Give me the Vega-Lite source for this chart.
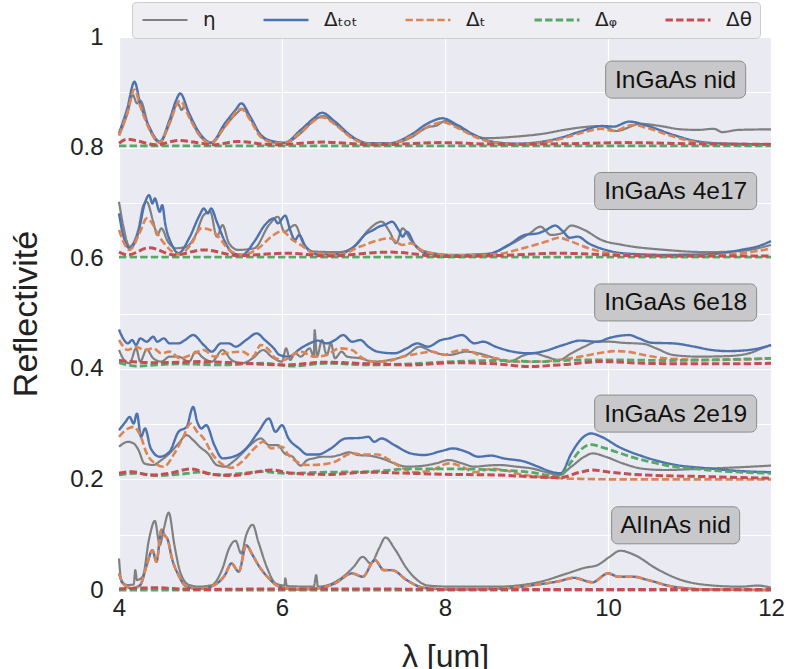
{
"$schema":"https://vega.github.io/schema/vega-lite/v6.json",
"width":652,"height":553,
"autosize":"none",
"padding":{"left":119,"top":37,"right":16,"bottom":79},
"background":"white",
"config":{
 "view":{"fill":"#eaeaf2","stroke":null},
 "axis":{"grid":true,"gridColor":"white","gridWidth":1.2,"domain":false,"ticks":false,"labelFont":"Liberation Sans","labelFontSize":24,"labelColor":"#222222","titleFont":"Liberation Sans","titleFontWeight":"normal","titleColor":"#222222","labelFlush":false,"labelOverlap":false}
},
"datasets":{
"labels":[
{"label":"InGaAs nid","x":10.83,"y":0.923},
{"label":"InGaAs 4e17","x":10.83,"y":0.7215},
{"label":"InGaAs 6e18","x":10.83,"y":0.52},
{"label":"InGaAs 2e19","x":10.83,"y":0.319},
{"label":"AlInAs nid","x":10.83,"y":0.117}],
"curves":[
{"b":"A","s":"eta","x":4.00,"y":0.822},{"b":"A","s":"eta","x":4.10,"y":0.860},{"b":"A","s":"eta","x":4.17,"y":0.895},{"b":"A","s":"eta","x":4.22,"y":0.880},{"b":"A","s":"eta","x":4.26,"y":0.885},{"b":"A","s":"eta","x":4.37,"y":0.835},{"b":"A","s":"eta","x":4.50,"y":0.809},{"b":"A","s":"eta","x":4.62,"y":0.843},{"b":"A","s":"eta","x":4.72,"y":0.880},{"b":"A","s":"eta","x":4.77,"y":0.868},{"b":"A","s":"eta","x":4.80,"y":0.875},{"b":"A","s":"eta","x":4.90,"y":0.845},{"b":"A","s":"eta","x":5.00,"y":0.820},{"b":"A","s":"eta","x":5.13,"y":0.808},{"b":"A","s":"eta","x":5.30,"y":0.838},{"b":"A","s":"eta","x":5.43,"y":0.860},{"b":"A","s":"eta","x":5.52,"y":0.870},{"b":"A","s":"eta","x":5.62,"y":0.850},{"b":"A","s":"eta","x":5.75,"y":0.820},{"b":"A","s":"eta","x":5.90,"y":0.809},{"b":"A","s":"eta","x":6.03,"y":0.808},{"b":"A","s":"eta","x":6.23,"y":0.826},{"b":"A","s":"eta","x":6.40,"y":0.850},{"b":"A","s":"eta","x":6.50,"y":0.857},{"b":"A","s":"eta","x":6.65,"y":0.843},{"b":"A","s":"eta","x":6.86,"y":0.818},{"b":"A","s":"eta","x":7.06,"y":0.807},{"b":"A","s":"eta","x":7.32,"y":0.807},{"b":"A","s":"eta","x":7.58,"y":0.818},{"b":"A","s":"eta","x":7.79,"y":0.837},{"b":"A","s":"eta","x":7.90,"y":0.840},{"b":"A","s":"eta","x":8.00,"y":0.848},{"b":"A","s":"eta","x":8.15,"y":0.838},{"b":"A","s":"eta","x":8.36,"y":0.822},{"b":"A","s":"eta","x":8.50,"y":0.817},{"b":"A","s":"eta","x":8.88,"y":0.820},{"b":"A","s":"eta","x":9.20,"y":0.825},{"b":"A","s":"eta","x":9.50,"y":0.833},{"b":"A","s":"eta","x":9.70,"y":0.837},{"b":"A","s":"eta","x":9.92,"y":0.839},{"b":"A","s":"eta","x":10.10,"y":0.830},{"b":"A","s":"eta","x":10.40,"y":0.843},{"b":"A","s":"eta","x":10.60,"y":0.840},{"b":"A","s":"eta","x":10.90,"y":0.833},{"b":"A","s":"eta","x":11.10,"y":0.832},{"b":"A","s":"eta","x":11.30,"y":0.834},{"b":"A","s":"eta","x":11.40,"y":0.828},{"b":"A","s":"eta","x":11.60,"y":0.832},{"b":"A","s":"eta","x":12.0,"y":0.833},
{"b":"A","s":"tot","x":4.00,"y":0.826},{"b":"A","s":"tot","x":4.10,"y":0.870},{"b":"A","s":"tot","x":4.19,"y":0.919},{"b":"A","s":"tot","x":4.26,"y":0.880},{"b":"A","s":"tot","x":4.37,"y":0.838},{"b":"A","s":"tot","x":4.50,"y":0.811},{"b":"A","s":"tot","x":4.62,"y":0.850},{"b":"A","s":"tot","x":4.70,"y":0.885},{"b":"A","s":"tot","x":4.75,"y":0.898},{"b":"A","s":"tot","x":4.86,"y":0.862},{"b":"A","s":"tot","x":4.99,"y":0.826},{"b":"A","s":"tot","x":5.13,"y":0.809},{"b":"A","s":"tot","x":5.30,"y":0.844},{"b":"A","s":"tot","x":5.43,"y":0.868},{"b":"A","s":"tot","x":5.50,"y":0.880},{"b":"A","s":"tot","x":5.61,"y":0.856},{"b":"A","s":"tot","x":5.74,"y":0.823},{"b":"A","s":"tot","x":5.90,"y":0.811},{"b":"A","s":"tot","x":6.03,"y":0.809},{"b":"A","s":"tot","x":6.23,"y":0.832},{"b":"A","s":"tot","x":6.39,"y":0.853},{"b":"A","s":"tot","x":6.49,"y":0.863},{"b":"A","s":"tot","x":6.65,"y":0.847},{"b":"A","s":"tot","x":6.86,"y":0.820},{"b":"A","s":"tot","x":7.06,"y":0.808},{"b":"A","s":"tot","x":7.32,"y":0.808},{"b":"A","s":"tot","x":7.58,"y":0.823},{"b":"A","s":"tot","x":7.79,"y":0.844},{"b":"A","s":"tot","x":7.97,"y":0.853},{"b":"A","s":"tot","x":8.15,"y":0.841},{"b":"A","s":"tot","x":8.36,"y":0.823},{"b":"A","s":"tot","x":8.57,"y":0.811},{"b":"A","s":"tot","x":8.88,"y":0.807},{"b":"A","s":"tot","x":9.40,"y":0.817},{"b":"A","s":"tot","x":9.66,"y":0.829},{"b":"A","s":"tot","x":9.92,"y":0.839},{"b":"A","s":"tot","x":10.07,"y":0.838},{"b":"A","s":"tot","x":10.26,"y":0.847},{"b":"A","s":"tot","x":10.49,"y":0.839},{"b":"A","s":"tot","x":10.80,"y":0.823},{"b":"A","s":"tot","x":11.11,"y":0.811},{"b":"A","s":"tot","x":11.47,"y":0.807},{"b":"A","s":"tot","x":12.0,"y":0.806},
{"b":"A","s":"t","x":4.00,"y":0.822},{"b":"A","s":"t","x":4.10,"y":0.862},{"b":"A","s":"t","x":4.19,"y":0.905},{"b":"A","s":"t","x":4.26,"y":0.875},{"b":"A","s":"t","x":4.37,"y":0.834},{"b":"A","s":"t","x":4.50,"y":0.809},{"b":"A","s":"t","x":4.62,"y":0.845},{"b":"A","s":"t","x":4.75,"y":0.885},{"b":"A","s":"t","x":4.86,"y":0.855},{"b":"A","s":"t","x":4.99,"y":0.822},{"b":"A","s":"t","x":5.13,"y":0.808},{"b":"A","s":"t","x":5.30,"y":0.838},{"b":"A","s":"t","x":5.50,"y":0.870},{"b":"A","s":"t","x":5.61,"y":0.850},{"b":"A","s":"t","x":5.74,"y":0.819},{"b":"A","s":"t","x":5.90,"y":0.809},{"b":"A","s":"t","x":6.03,"y":0.808},{"b":"A","s":"t","x":6.23,"y":0.828},{"b":"A","s":"t","x":6.49,"y":0.855},{"b":"A","s":"t","x":6.65,"y":0.842},{"b":"A","s":"t","x":6.86,"y":0.817},{"b":"A","s":"t","x":7.06,"y":0.807},{"b":"A","s":"t","x":7.32,"y":0.807},{"b":"A","s":"t","x":7.58,"y":0.820},{"b":"A","s":"t","x":7.79,"y":0.838},{"b":"A","s":"t","x":7.97,"y":0.846},{"b":"A","s":"t","x":8.15,"y":0.836},{"b":"A","s":"t","x":8.36,"y":0.820},{"b":"A","s":"t","x":8.57,"y":0.810},{"b":"A","s":"t","x":8.88,"y":0.806},{"b":"A","s":"t","x":9.40,"y":0.815},{"b":"A","s":"t","x":9.66,"y":0.826},{"b":"A","s":"t","x":9.92,"y":0.834},{"b":"A","s":"t","x":10.07,"y":0.830},{"b":"A","s":"t","x":10.30,"y":0.841},{"b":"A","s":"t","x":10.49,"y":0.835},{"b":"A","s":"t","x":10.80,"y":0.820},{"b":"A","s":"t","x":11.11,"y":0.809},{"b":"A","s":"t","x":11.47,"y":0.806},{"b":"A","s":"t","x":12.0,"y":0.805},
{"b":"A","s":"phi","x":4.0,"y":0.803},{"b":"A","s":"phi","x":6.0,"y":0.803},{"b":"A","s":"phi","x":8.0,"y":0.803},{"b":"A","s":"phi","x":10.0,"y":0.803},{"b":"A","s":"phi","x":12.0,"y":0.803},
{"b":"A","s":"theta","x":4.00,"y":0.808},{"b":"A","s":"theta","x":4.10,"y":0.815},{"b":"A","s":"theta","x":4.20,"y":0.813},{"b":"A","s":"theta","x":4.45,"y":0.805},{"b":"A","s":"theta","x":4.73,"y":0.813},{"b":"A","s":"theta","x":5.00,"y":0.808},{"b":"A","s":"theta","x":5.15,"y":0.805},{"b":"A","s":"theta","x":5.45,"y":0.811},{"b":"A","s":"theta","x":5.90,"y":0.805},{"b":"A","s":"theta","x":6.50,"y":0.810},{"b":"A","s":"theta","x":7.15,"y":0.805},{"b":"A","s":"theta","x":7.95,"y":0.809},{"b":"A","s":"theta","x":8.70,"y":0.806},{"b":"A","s":"theta","x":9.50,"y":0.807},{"b":"A","s":"theta","x":10.20,"y":0.809},{"b":"A","s":"theta","x":11.00,"y":0.807},{"b":"A","s":"theta","x":12.0,"y":0.806},
{"b":"B","s":"eta","x":4.00,"y":0.702},{"b":"B","s":"eta","x":4.05,"y":0.660},{"b":"B","s":"eta","x":4.13,"y":0.621},{"b":"B","s":"eta","x":4.24,"y":0.654},{"b":"B","s":"eta","x":4.30,"y":0.696},{"b":"B","s":"eta","x":4.34,"y":0.702},{"b":"B","s":"eta","x":4.42,"y":0.666},{"b":"B","s":"eta","x":4.47,"y":0.642},{"b":"B","s":"eta","x":4.52,"y":0.654},{"b":"B","s":"eta","x":4.60,"y":0.630},{"b":"B","s":"eta","x":4.70,"y":0.618},{"b":"B","s":"eta","x":4.83,"y":0.621},{"b":"B","s":"eta","x":4.94,"y":0.642},{"b":"B","s":"eta","x":5.04,"y":0.678},{"b":"B","s":"eta","x":5.12,"y":0.684},{"b":"B","s":"eta","x":5.20,"y":0.639},{"b":"B","s":"eta","x":5.27,"y":0.660},{"b":"B","s":"eta","x":5.35,"y":0.627},{"b":"B","s":"eta","x":5.46,"y":0.615},{"b":"B","s":"eta","x":5.66,"y":0.618},{"b":"B","s":"eta","x":5.84,"y":0.660},{"b":"B","s":"eta","x":5.95,"y":0.675},{"b":"B","s":"eta","x":6.03,"y":0.648},{"b":"B","s":"eta","x":6.16,"y":0.660},{"b":"B","s":"eta","x":6.26,"y":0.627},{"b":"B","s":"eta","x":6.39,"y":0.612},{"b":"B","s":"eta","x":6.70,"y":0.611},{"b":"B","s":"eta","x":6.91,"y":0.624},{"b":"B","s":"eta","x":7.06,"y":0.651},{"b":"B","s":"eta","x":7.22,"y":0.666},{"b":"B","s":"eta","x":7.32,"y":0.648},{"b":"B","s":"eta","x":7.40,"y":0.627},{"b":"B","s":"eta","x":7.48,"y":0.654},{"b":"B","s":"eta","x":7.58,"y":0.633},{"b":"B","s":"eta","x":7.74,"y":0.613},{"b":"B","s":"eta","x":8.10,"y":0.606},{"b":"B","s":"eta","x":8.52,"y":0.608},{"b":"B","s":"eta","x":8.83,"y":0.627},{"b":"B","s":"eta","x":9.04,"y":0.645},{"b":"B","s":"eta","x":9.17,"y":0.657},{"b":"B","s":"eta","x":9.30,"y":0.642},{"b":"B","s":"eta","x":9.43,"y":0.645},{"b":"B","s":"eta","x":9.55,"y":0.659},{"b":"B","s":"eta","x":9.71,"y":0.651},{"b":"B","s":"eta","x":9.92,"y":0.633},{"b":"B","s":"eta","x":10.18,"y":0.624},{"b":"B","s":"eta","x":10.70,"y":0.615},{"b":"B","s":"eta","x":11.22,"y":0.611},{"b":"B","s":"eta","x":11.63,"y":0.613},{"b":"B","s":"eta","x":12.0,"y":0.624},
{"b":"B","s":"tot","x":4.00,"y":0.681},{"b":"B","s":"tot","x":4.05,"y":0.642},{"b":"B","s":"tot","x":4.13,"y":0.618},{"b":"B","s":"tot","x":4.24,"y":0.648},{"b":"B","s":"tot","x":4.31,"y":0.696},{"b":"B","s":"tot","x":4.37,"y":0.714},{"b":"B","s":"tot","x":4.41,"y":0.699},{"b":"B","s":"tot","x":4.44,"y":0.708},{"b":"B","s":"tot","x":4.50,"y":0.684},{"b":"B","s":"tot","x":4.53,"y":0.696},{"b":"B","s":"tot","x":4.57,"y":0.660},{"b":"B","s":"tot","x":4.65,"y":0.624},{"b":"B","s":"tot","x":4.73,"y":0.609},{"b":"B","s":"tot","x":4.86,"y":0.636},{"b":"B","s":"tot","x":4.99,"y":0.678},{"b":"B","s":"tot","x":5.04,"y":0.690},{"b":"B","s":"tot","x":5.09,"y":0.681},{"b":"B","s":"tot","x":5.13,"y":0.690},{"b":"B","s":"tot","x":5.20,"y":0.666},{"b":"B","s":"tot","x":5.30,"y":0.630},{"b":"B","s":"tot","x":5.40,"y":0.609},{"b":"B","s":"tot","x":5.51,"y":0.606},{"b":"B","s":"tot","x":5.66,"y":0.630},{"b":"B","s":"tot","x":5.79,"y":0.660},{"b":"B","s":"tot","x":5.90,"y":0.672},{"b":"B","s":"tot","x":5.95,"y":0.663},{"b":"B","s":"tot","x":6.04,"y":0.677},{"b":"B","s":"tot","x":6.10,"y":0.651},{"b":"B","s":"tot","x":6.16,"y":0.633},{"b":"B","s":"tot","x":6.21,"y":0.642},{"b":"B","s":"tot","x":6.29,"y":0.621},{"b":"B","s":"tot","x":6.44,"y":0.607},{"b":"B","s":"tot","x":6.65,"y":0.607},{"b":"B","s":"tot","x":6.86,"y":0.618},{"b":"B","s":"tot","x":7.04,"y":0.645},{"b":"B","s":"tot","x":7.12,"y":0.651},{"b":"B","s":"tot","x":7.19,"y":0.657},{"b":"B","s":"tot","x":7.27,"y":0.661},{"b":"B","s":"tot","x":7.35,"y":0.666},{"b":"B","s":"tot","x":7.43,"y":0.651},{"b":"B","s":"tot","x":7.48,"y":0.639},{"b":"B","s":"tot","x":7.53,"y":0.648},{"b":"B","s":"tot","x":7.63,"y":0.624},{"b":"B","s":"tot","x":7.79,"y":0.608},{"b":"B","s":"tot","x":8.10,"y":0.605},{"b":"B","s":"tot","x":8.52,"y":0.607},{"b":"B","s":"tot","x":8.78,"y":0.624},{"b":"B","s":"tot","x":8.98,"y":0.642},{"b":"B","s":"tot","x":9.14,"y":0.645},{"b":"B","s":"tot","x":9.24,"y":0.651},{"b":"B","s":"tot","x":9.35,"y":0.659},{"b":"B","s":"tot","x":9.45,"y":0.648},{"b":"B","s":"tot","x":9.53,"y":0.637},{"b":"B","s":"tot","x":9.63,"y":0.639},{"b":"B","s":"tot","x":9.76,"y":0.627},{"b":"B","s":"tot","x":9.97,"y":0.615},{"b":"B","s":"tot","x":10.18,"y":0.609},{"b":"B","s":"tot","x":10.70,"y":0.606},{"b":"B","s":"tot","x":11.22,"y":0.607},{"b":"B","s":"tot","x":11.63,"y":0.615},{"b":"B","s":"tot","x":11.89,"y":0.624},{"b":"B","s":"tot","x":12.0,"y":0.631},
{"b":"B","s":"t","x":4.00,"y":0.651},{"b":"B","s":"t","x":4.13,"y":0.615},{"b":"B","s":"t","x":4.26,"y":0.648},{"b":"B","s":"t","x":4.34,"y":0.672},{"b":"B","s":"t","x":4.42,"y":0.660},{"b":"B","s":"t","x":4.47,"y":0.645},{"b":"B","s":"t","x":4.57,"y":0.624},{"b":"B","s":"t","x":4.73,"y":0.607},{"b":"B","s":"t","x":4.88,"y":0.624},{"b":"B","s":"t","x":5.01,"y":0.654},{"b":"B","s":"t","x":5.12,"y":0.651},{"b":"B","s":"t","x":5.22,"y":0.639},{"b":"B","s":"t","x":5.35,"y":0.615},{"b":"B","s":"t","x":5.51,"y":0.606},{"b":"B","s":"t","x":5.71,"y":0.618},{"b":"B","s":"t","x":5.87,"y":0.639},{"b":"B","s":"t","x":6.00,"y":0.649},{"b":"B","s":"t","x":6.13,"y":0.633},{"b":"B","s":"t","x":6.23,"y":0.624},{"b":"B","s":"t","x":6.39,"y":0.609},{"b":"B","s":"t","x":6.70,"y":0.607},{"b":"B","s":"t","x":6.96,"y":0.621},{"b":"B","s":"t","x":7.17,"y":0.632},{"b":"B","s":"t","x":7.32,"y":0.636},{"b":"B","s":"t","x":7.48,"y":0.624},{"b":"B","s":"t","x":7.58,"y":0.627},{"b":"B","s":"t","x":7.74,"y":0.612},{"b":"B","s":"t","x":8.10,"y":0.605},{"b":"B","s":"t","x":8.62,"y":0.607},{"b":"B","s":"t","x":8.93,"y":0.617},{"b":"B","s":"t","x":9.24,"y":0.630},{"b":"B","s":"t","x":9.40,"y":0.637},{"b":"B","s":"t","x":9.55,"y":0.630},{"b":"B","s":"t","x":9.76,"y":0.618},{"b":"B","s":"t","x":10.02,"y":0.609},{"b":"B","s":"t","x":10.44,"y":0.605},{"b":"B","s":"t","x":10.96,"y":0.604},{"b":"B","s":"t","x":11.47,"y":0.607},{"b":"B","s":"t","x":11.84,"y":0.613},{"b":"B","s":"t","x":12.0,"y":0.618},
{"b":"B","s":"phi","x":4.0,"y":0.602},{"b":"B","s":"phi","x":8.0,"y":0.602},{"b":"B","s":"phi","x":12.0,"y":0.602},
{"b":"B","s":"theta","x":4.00,"y":0.611},{"b":"B","s":"theta","x":4.11,"y":0.606},{"b":"B","s":"theta","x":4.37,"y":0.619},{"b":"B","s":"theta","x":4.68,"y":0.606},{"b":"B","s":"theta","x":5.04,"y":0.615},{"b":"B","s":"theta","x":5.46,"y":0.605},{"b":"B","s":"theta","x":6.08,"y":0.609},{"b":"B","s":"theta","x":6.55,"y":0.604},{"b":"B","s":"theta","x":7.32,"y":0.611},{"b":"B","s":"theta","x":8.0,"y":0.603},{"b":"B","s":"theta","x":8.7,"y":0.605},{"b":"B","s":"theta","x":9.4,"y":0.609},{"b":"B","s":"theta","x":10.18,"y":0.605},{"b":"B","s":"theta","x":11.0,"y":0.604},{"b":"B","s":"theta","x":12.0,"y":0.604},
{"b":"C","s":"eta","x":4.00,"y":0.434},{"b":"C","s":"eta","x":4.08,"y":0.413},{"b":"C","s":"eta","x":4.13,"y":0.410},{"b":"C","s":"eta","x":4.21,"y":0.437},{"b":"C","s":"eta","x":4.26,"y":0.413},{"b":"C","s":"eta","x":4.34,"y":0.435},{"b":"C","s":"eta","x":4.42,"y":0.419},{"b":"C","s":"eta","x":4.52,"y":0.413},{"b":"C","s":"eta","x":4.62,"y":0.422},{"b":"C","s":"eta","x":4.73,"y":0.422},{"b":"C","s":"eta","x":4.86,"y":0.413},{"b":"C","s":"eta","x":4.94,"y":0.431},{"b":"C","s":"eta","x":5.04,"y":0.419},{"b":"C","s":"eta","x":5.14,"y":0.413},{"b":"C","s":"eta","x":5.27,"y":0.434},{"b":"C","s":"eta","x":5.38,"y":0.416},{"b":"C","s":"eta","x":5.51,"y":0.410},{"b":"C","s":"eta","x":5.64,"y":0.419},{"b":"C","s":"eta","x":5.77,"y":0.434},{"b":"C","s":"eta","x":5.87,"y":0.422},{"b":"C","s":"eta","x":6.00,"y":0.413},{"b":"C","s":"eta","x":6.05,"y":0.437},{"b":"C","s":"eta","x":6.10,"y":0.416},{"b":"C","s":"eta","x":6.16,"y":0.428},{"b":"C","s":"eta","x":6.23,"y":0.422},{"b":"C","s":"eta","x":6.34,"y":0.437},{"b":"C","s":"eta","x":6.39,"y":0.422},{"b":"C","s":"eta","x":6.40,"y":0.470},{"b":"C","s":"eta","x":6.43,"y":0.422},{"b":"C","s":"eta","x":6.49,"y":0.452},{"b":"C","s":"eta","x":6.55,"y":0.425},{"b":"C","s":"eta","x":6.60,"y":0.446},{"b":"C","s":"eta","x":6.65,"y":0.419},{"b":"C","s":"eta","x":6.73,"y":0.431},{"b":"C","s":"eta","x":6.80,"y":0.422},{"b":"C","s":"eta","x":6.96,"y":0.419},{"b":"C","s":"eta","x":7.12,"y":0.413},{"b":"C","s":"eta","x":7.32,"y":0.416},{"b":"C","s":"eta","x":7.53,"y":0.425},{"b":"C","s":"eta","x":7.69,"y":0.440},{"b":"C","s":"eta","x":7.84,"y":0.431},{"b":"C","s":"eta","x":8.05,"y":0.425},{"b":"C","s":"eta","x":8.26,"y":0.431},{"b":"C","s":"eta","x":8.41,"y":0.428},{"b":"C","s":"eta","x":8.62,"y":0.419},{"b":"C","s":"eta","x":8.78,"y":0.413},{"b":"C","s":"eta","x":8.98,"y":0.425},{"b":"C","s":"eta","x":9.09,"y":0.428},{"b":"C","s":"eta","x":9.24,"y":0.422},{"b":"C","s":"eta","x":9.40,"y":0.416},{"b":"C","s":"eta","x":9.55,"y":0.428},{"b":"C","s":"eta","x":9.71,"y":0.440},{"b":"C","s":"eta","x":9.87,"y":0.449},{"b":"C","s":"eta","x":10.02,"y":0.449},{"b":"C","s":"eta","x":10.18,"y":0.447},{"b":"C","s":"eta","x":10.44,"y":0.445},{"b":"C","s":"eta","x":10.59,"y":0.437},{"b":"C","s":"eta","x":10.80,"y":0.425},{"b":"C","s":"eta","x":11.11,"y":0.422},{"b":"C","s":"eta","x":11.47,"y":0.423},{"b":"C","s":"eta","x":11.73,"y":0.428},{"b":"C","s":"eta","x":11.89,"y":0.437},{"b":"C","s":"eta","x":12.0,"y":0.443},
{"b":"C","s":"tot","x":4.00,"y":0.471},{"b":"C","s":"tot","x":4.05,"y":0.455},{"b":"C","s":"tot","x":4.11,"y":0.446},{"b":"C","s":"tot","x":4.16,"y":0.452},{"b":"C","s":"tot","x":4.21,"y":0.443},{"b":"C","s":"tot","x":4.26,"y":0.455},{"b":"C","s":"tot","x":4.34,"y":0.449},{"b":"C","s":"tot","x":4.42,"y":0.458},{"b":"C","s":"tot","x":4.47,"y":0.449},{"b":"C","s":"tot","x":4.55,"y":0.455},{"b":"C","s":"tot","x":4.62,"y":0.446},{"b":"C","s":"tot","x":4.73,"y":0.446},{"b":"C","s":"tot","x":4.81,"y":0.452},{"b":"C","s":"tot","x":4.91,"y":0.461},{"b":"C","s":"tot","x":5.04,"y":0.443},{"b":"C","s":"tot","x":5.14,"y":0.431},{"b":"C","s":"tot","x":5.25,"y":0.446},{"b":"C","s":"tot","x":5.35,"y":0.446},{"b":"C","s":"tot","x":5.43,"y":0.440},{"b":"C","s":"tot","x":5.56,"y":0.452},{"b":"C","s":"tot","x":5.69,"y":0.464},{"b":"C","s":"tot","x":5.79,"y":0.452},{"b":"C","s":"tot","x":5.90,"y":0.437},{"b":"C","s":"tot","x":5.97,"y":0.425},{"b":"C","s":"tot","x":6.08,"y":0.422},{"b":"C","s":"tot","x":6.23,"y":0.437},{"b":"C","s":"tot","x":6.34,"y":0.446},{"b":"C","s":"tot","x":6.44,"y":0.451},{"b":"C","s":"tot","x":6.55,"y":0.446},{"b":"C","s":"tot","x":6.65,"y":0.452},{"b":"C","s":"tot","x":6.75,"y":0.461},{"b":"C","s":"tot","x":6.86,"y":0.449},{"b":"C","s":"tot","x":6.96,"y":0.452},{"b":"C","s":"tot","x":7.06,"y":0.440},{"b":"C","s":"tot","x":7.17,"y":0.431},{"b":"C","s":"tot","x":7.38,"y":0.428},{"b":"C","s":"tot","x":7.53,"y":0.437},{"b":"C","s":"tot","x":7.66,"y":0.446},{"b":"C","s":"tot","x":7.79,"y":0.440},{"b":"C","s":"tot","x":7.95,"y":0.452},{"b":"C","s":"tot","x":8.05,"y":0.455},{"b":"C","s":"tot","x":8.21,"y":0.461},{"b":"C","s":"tot","x":8.36,"y":0.446},{"b":"C","s":"tot","x":8.47,"y":0.449},{"b":"C","s":"tot","x":8.62,"y":0.440},{"b":"C","s":"tot","x":8.83,"y":0.431},{"b":"C","s":"tot","x":9.04,"y":0.428},{"b":"C","s":"tot","x":9.19,"y":0.431},{"b":"C","s":"tot","x":9.45,"y":0.443},{"b":"C","s":"tot","x":9.66,"y":0.451},{"b":"C","s":"tot","x":9.87,"y":0.449},{"b":"C","s":"tot","x":10.02,"y":0.456},{"b":"C","s":"tot","x":10.26,"y":0.461},{"b":"C","s":"tot","x":10.38,"y":0.455},{"b":"C","s":"tot","x":10.54,"y":0.447},{"b":"C","s":"tot","x":10.80,"y":0.446},{"b":"C","s":"tot","x":11.06,"y":0.440},{"b":"C","s":"tot","x":11.27,"y":0.434},{"b":"C","s":"tot","x":11.47,"y":0.432},{"b":"C","s":"tot","x":11.73,"y":0.434},{"b":"C","s":"tot","x":12.0,"y":0.443},
{"b":"C","s":"t","x":4.00,"y":0.452},{"b":"C","s":"t","x":4.11,"y":0.434},{"b":"C","s":"t","x":4.21,"y":0.440},{"b":"C","s":"t","x":4.31,"y":0.434},{"b":"C","s":"t","x":4.42,"y":0.437},{"b":"C","s":"t","x":4.52,"y":0.428},{"b":"C","s":"t","x":4.62,"y":0.431},{"b":"C","s":"t","x":4.75,"y":0.419},{"b":"C","s":"t","x":4.88,"y":0.425},{"b":"C","s":"t","x":5.04,"y":0.434},{"b":"C","s":"t","x":5.17,"y":0.422},{"b":"C","s":"t","x":5.30,"y":0.428},{"b":"C","s":"t","x":5.51,"y":0.431},{"b":"C","s":"t","x":5.64,"y":0.422},{"b":"C","s":"t","x":5.74,"y":0.443},{"b":"C","s":"t","x":5.84,"y":0.434},{"b":"C","s":"t","x":5.92,"y":0.419},{"b":"C","s":"t","x":6.03,"y":0.416},{"b":"C","s":"t","x":6.13,"y":0.425},{"b":"C","s":"t","x":6.23,"y":0.431},{"b":"C","s":"t","x":6.39,"y":0.422},{"b":"C","s":"t","x":6.55,"y":0.425},{"b":"C","s":"t","x":6.70,"y":0.437},{"b":"C","s":"t","x":6.86,"y":0.434},{"b":"C","s":"t","x":6.96,"y":0.422},{"b":"C","s":"t","x":7.12,"y":0.413},{"b":"C","s":"t","x":7.27,"y":0.413},{"b":"C","s":"t","x":7.48,"y":0.422},{"b":"C","s":"t","x":7.69,"y":0.428},{"b":"C","s":"t","x":7.84,"y":0.431},{"b":"C","s":"t","x":8.00,"y":0.425},{"b":"C","s":"t","x":8.10,"y":0.431},{"b":"C","s":"t","x":8.26,"y":0.434},{"b":"C","s":"t","x":8.41,"y":0.425},{"b":"C","s":"t","x":8.62,"y":0.419},{"b":"C","s":"t","x":8.88,"y":0.413},{"b":"C","s":"t","x":9.14,"y":0.413},{"b":"C","s":"t","x":9.40,"y":0.416},{"b":"C","s":"t","x":9.66,"y":0.422},{"b":"C","s":"t","x":9.92,"y":0.429},{"b":"C","s":"t","x":10.07,"y":0.432},{"b":"C","s":"t","x":10.23,"y":0.431},{"b":"C","s":"t","x":10.44,"y":0.425},{"b":"C","s":"t","x":10.70,"y":0.419},{"b":"C","s":"t","x":11.22,"y":0.416},{"b":"C","s":"t","x":11.73,"y":0.417},{"b":"C","s":"t","x":12.0,"y":0.419},
{"b":"C","s":"phi","x":4.00,"y":0.411},{"b":"C","s":"phi","x":4.21,"y":0.405},{"b":"C","s":"phi","x":4.73,"y":0.409},{"b":"C","s":"phi","x":5.25,"y":0.407},{"b":"C","s":"phi","x":5.77,"y":0.410},{"b":"C","s":"phi","x":6.13,"y":0.405},{"b":"C","s":"phi","x":6.55,"y":0.410},{"b":"C","s":"phi","x":7.06,"y":0.407},{"b":"C","s":"phi","x":7.58,"y":0.409},{"b":"C","s":"phi","x":8.10,"y":0.413},{"b":"C","s":"phi","x":8.62,"y":0.415},{"b":"C","s":"phi","x":9.14,"y":0.413},{"b":"C","s":"phi","x":9.66,"y":0.416},{"b":"C","s":"phi","x":10.18,"y":0.416},{"b":"C","s":"phi","x":10.70,"y":0.415},{"b":"C","s":"phi","x":11.22,"y":0.416},{"b":"C","s":"phi","x":12.0,"y":0.419},
{"b":"C","s":"theta","x":4.00,"y":0.415},{"b":"C","s":"theta","x":4.47,"y":0.411},{"b":"C","s":"theta","x":4.99,"y":0.413},{"b":"C","s":"theta","x":5.51,"y":0.410},{"b":"C","s":"theta","x":6.03,"y":0.407},{"b":"C","s":"theta","x":6.55,"y":0.412},{"b":"C","s":"theta","x":7.06,"y":0.409},{"b":"C","s":"theta","x":7.58,"y":0.407},{"b":"C","s":"theta","x":8.10,"y":0.411},{"b":"C","s":"theta","x":8.62,"y":0.409},{"b":"C","s":"theta","x":9.04,"y":0.404},{"b":"C","s":"theta","x":9.40,"y":0.407},{"b":"C","s":"theta","x":9.92,"y":0.413},{"b":"C","s":"theta","x":10.44,"y":0.410},{"b":"C","s":"theta","x":10.96,"y":0.409},{"b":"C","s":"theta","x":11.47,"y":0.409},{"b":"C","s":"theta","x":12.0,"y":0.410},
{"b":"D","s":"eta","x":4.00,"y":0.259},{"b":"D","s":"eta","x":4.11,"y":0.268},{"b":"D","s":"eta","x":4.18,"y":0.265},{"b":"D","s":"eta","x":4.24,"y":0.253},{"b":"D","s":"eta","x":4.31,"y":0.229},{"b":"D","s":"eta","x":4.42,"y":0.226},{"b":"D","s":"eta","x":4.52,"y":0.235},{"b":"D","s":"eta","x":4.62,"y":0.247},{"b":"D","s":"eta","x":4.73,"y":0.265},{"b":"D","s":"eta","x":4.83,"y":0.280},{"b":"D","s":"eta","x":4.91,"y":0.271},{"b":"D","s":"eta","x":4.99,"y":0.259},{"b":"D","s":"eta","x":5.09,"y":0.247},{"b":"D","s":"eta","x":5.20,"y":0.226},{"b":"D","s":"eta","x":5.30,"y":0.223},{"b":"D","s":"eta","x":5.40,"y":0.232},{"b":"D","s":"eta","x":5.51,"y":0.247},{"b":"D","s":"eta","x":5.61,"y":0.262},{"b":"D","s":"eta","x":5.74,"y":0.274},{"b":"D","s":"eta","x":5.84,"y":0.262},{"b":"D","s":"eta","x":5.95,"y":0.262},{"b":"D","s":"eta","x":6.03,"y":0.247},{"b":"D","s":"eta","x":6.13,"y":0.241},{"b":"D","s":"eta","x":6.23,"y":0.225},{"b":"D","s":"eta","x":6.31,"y":0.235},{"b":"D","s":"eta","x":6.39,"y":0.238},{"b":"D","s":"eta","x":6.49,"y":0.241},{"b":"D","s":"eta","x":6.60,"y":0.241},{"b":"D","s":"eta","x":6.70,"y":0.244},{"b":"D","s":"eta","x":6.83,"y":0.249},{"b":"D","s":"eta","x":6.93,"y":0.244},{"b":"D","s":"eta","x":7.06,"y":0.243},{"b":"D","s":"eta","x":7.22,"y":0.238},{"b":"D","s":"eta","x":7.38,"y":0.229},{"b":"D","s":"eta","x":7.53,"y":0.223},{"b":"D","s":"eta","x":7.69,"y":0.224},{"b":"D","s":"eta","x":7.89,"y":0.229},{"b":"D","s":"eta","x":8.05,"y":0.235},{"b":"D","s":"eta","x":8.21,"y":0.229},{"b":"D","s":"eta","x":8.36,"y":0.223},{"b":"D","s":"eta","x":8.52,"y":0.225},{"b":"D","s":"eta","x":8.67,"y":0.226},{"b":"D","s":"eta","x":8.88,"y":0.223},{"b":"D","s":"eta","x":9.09,"y":0.219},{"b":"D","s":"eta","x":9.24,"y":0.213},{"b":"D","s":"eta","x":9.40,"y":0.208},{"b":"D","s":"eta","x":9.55,"y":0.223},{"b":"D","s":"eta","x":9.71,"y":0.241},{"b":"D","s":"eta","x":9.81,"y":0.247},{"b":"D","s":"eta","x":9.97,"y":0.241},{"b":"D","s":"eta","x":10.18,"y":0.229},{"b":"D","s":"eta","x":10.44,"y":0.219},{"b":"D","s":"eta","x":10.70,"y":0.217},{"b":"D","s":"eta","x":11.11,"y":0.219},{"b":"D","s":"eta","x":11.47,"y":0.221},{"b":"D","s":"eta","x":12.0,"y":0.225},
{"b":"D","s":"tot","x":4.00,"y":0.289},{"b":"D","s":"tot","x":4.08,"y":0.304},{"b":"D","s":"tot","x":4.13,"y":0.313},{"b":"D","s":"tot","x":4.18,"y":0.301},{"b":"D","s":"tot","x":4.22,"y":0.319},{"b":"D","s":"tot","x":4.27,"y":0.277},{"b":"D","s":"tot","x":4.32,"y":0.292},{"b":"D","s":"tot","x":4.39,"y":0.256},{"b":"D","s":"tot","x":4.50,"y":0.241},{"b":"D","s":"tot","x":4.62,"y":0.250},{"b":"D","s":"tot","x":4.73,"y":0.286},{"b":"D","s":"tot","x":4.83,"y":0.295},{"b":"D","s":"tot","x":4.91,"y":0.331},{"b":"D","s":"tot","x":4.96,"y":0.304},{"b":"D","s":"tot","x":5.01,"y":0.292},{"b":"D","s":"tot","x":5.07,"y":0.298},{"b":"D","s":"tot","x":5.17,"y":0.262},{"b":"D","s":"tot","x":5.27,"y":0.238},{"b":"D","s":"tot","x":5.40,"y":0.241},{"b":"D","s":"tot","x":5.56,"y":0.256},{"b":"D","s":"tot","x":5.71,"y":0.286},{"b":"D","s":"tot","x":5.84,"y":0.310},{"b":"D","s":"tot","x":5.92,"y":0.286},{"b":"D","s":"tot","x":6.00,"y":0.298},{"b":"D","s":"tot","x":6.08,"y":0.274},{"b":"D","s":"tot","x":6.21,"y":0.256},{"b":"D","s":"tot","x":6.31,"y":0.245},{"b":"D","s":"tot","x":6.44,"y":0.245},{"b":"D","s":"tot","x":6.60,"y":0.256},{"b":"D","s":"tot","x":6.78,"y":0.274},{"b":"D","s":"tot","x":6.96,"y":0.275},{"b":"D","s":"tot","x":7.06,"y":0.277},{"b":"D","s":"tot","x":7.13,"y":0.268},{"b":"D","s":"tot","x":7.22,"y":0.274},{"b":"D","s":"tot","x":7.38,"y":0.262},{"b":"D","s":"tot","x":7.58,"y":0.247},{"b":"D","s":"tot","x":7.74,"y":0.244},{"b":"D","s":"tot","x":7.95,"y":0.251},{"b":"D","s":"tot","x":8.10,"y":0.256},{"b":"D","s":"tot","x":8.26,"y":0.250},{"b":"D","s":"tot","x":8.41,"y":0.241},{"b":"D","s":"tot","x":8.57,"y":0.243},{"b":"D","s":"tot","x":8.72,"y":0.238},{"b":"D","s":"tot","x":8.98,"y":0.232},{"b":"D","s":"tot","x":9.14,"y":0.223},{"b":"D","s":"tot","x":9.30,"y":0.214},{"b":"D","s":"tot","x":9.42,"y":0.211},{"b":"D","s":"tot","x":9.55,"y":0.247},{"b":"D","s":"tot","x":9.66,"y":0.271},{"b":"D","s":"tot","x":9.79,"y":0.283},{"b":"D","s":"tot","x":9.92,"y":0.277},{"b":"D","s":"tot","x":10.13,"y":0.259},{"b":"D","s":"tot","x":10.44,"y":0.241},{"b":"D","s":"tot","x":10.80,"y":0.227},{"b":"D","s":"tot","x":11.22,"y":0.220},{"b":"D","s":"tot","x":11.63,"y":0.215},{"b":"D","s":"tot","x":12.0,"y":0.213},
{"b":"D","s":"t","x":4.00,"y":0.277},{"b":"D","s":"t","x":4.11,"y":0.292},{"b":"D","s":"t","x":4.18,"y":0.295},{"b":"D","s":"t","x":4.26,"y":0.280},{"b":"D","s":"t","x":4.34,"y":0.247},{"b":"D","s":"t","x":4.44,"y":0.229},{"b":"D","s":"t","x":4.55,"y":0.223},{"b":"D","s":"t","x":4.68,"y":0.247},{"b":"D","s":"t","x":4.78,"y":0.274},{"b":"D","s":"t","x":4.88,"y":0.301},{"b":"D","s":"t","x":4.96,"y":0.286},{"b":"D","s":"t","x":5.04,"y":0.274},{"b":"D","s":"t","x":5.14,"y":0.247},{"b":"D","s":"t","x":5.25,"y":0.229},{"b":"D","s":"t","x":5.38,"y":0.221},{"b":"D","s":"t","x":5.51,"y":0.232},{"b":"D","s":"t","x":5.66,"y":0.256},{"b":"D","s":"t","x":5.77,"y":0.268},{"b":"D","s":"t","x":5.87,"y":0.256},{"b":"D","s":"t","x":6.00,"y":0.259},{"b":"D","s":"t","x":6.08,"y":0.244},{"b":"D","s":"t","x":6.18,"y":0.232},{"b":"D","s":"t","x":6.31,"y":0.226},{"b":"D","s":"t","x":6.49,"y":0.227},{"b":"D","s":"t","x":6.65,"y":0.232},{"b":"D","s":"t","x":6.86,"y":0.247},{"b":"D","s":"t","x":7.01,"y":0.245},{"b":"D","s":"t","x":7.17,"y":0.245},{"b":"D","s":"t","x":7.32,"y":0.235},{"b":"D","s":"t","x":7.48,"y":0.220},{"b":"D","s":"t","x":7.63,"y":0.213},{"b":"D","s":"t","x":7.84,"y":0.217},{"b":"D","s":"t","x":8.05,"y":0.229},{"b":"D","s":"t","x":8.21,"y":0.223},{"b":"D","s":"t","x":8.36,"y":0.213},{"b":"D","s":"t","x":8.57,"y":0.219},{"b":"D","s":"t","x":8.72,"y":0.217},{"b":"D","s":"t","x":8.93,"y":0.209},{"b":"D","s":"t","x":9.14,"y":0.205},{"b":"D","s":"t","x":9.40,"y":0.202},{"b":"D","s":"t","x":9.66,"y":0.201},{"b":"D","s":"t","x":10.18,"y":0.200},{"b":"D","s":"t","x":12.0,"y":0.200},
{"b":"D","s":"phi","x":4.00,"y":0.208},{"b":"D","s":"phi","x":4.21,"y":0.211},{"b":"D","s":"phi","x":4.47,"y":0.207},{"b":"D","s":"phi","x":4.73,"y":0.209},{"b":"D","s":"phi","x":4.99,"y":0.213},{"b":"D","s":"phi","x":5.25,"y":0.208},{"b":"D","s":"phi","x":5.51,"y":0.211},{"b":"D","s":"phi","x":5.77,"y":0.214},{"b":"D","s":"phi","x":6.03,"y":0.211},{"b":"D","s":"phi","x":6.55,"y":0.213},{"b":"D","s":"phi","x":7.06,"y":0.214},{"b":"D","s":"phi","x":7.58,"y":0.219},{"b":"D","s":"phi","x":8.10,"y":0.219},{"b":"D","s":"phi","x":8.62,"y":0.217},{"b":"D","s":"phi","x":9.04,"y":0.213},{"b":"D","s":"phi","x":9.40,"y":0.205},{"b":"D","s":"phi","x":9.55,"y":0.232},{"b":"D","s":"phi","x":9.66,"y":0.253},{"b":"D","s":"phi","x":9.79,"y":0.263},{"b":"D","s":"phi","x":9.97,"y":0.256},{"b":"D","s":"phi","x":10.28,"y":0.241},{"b":"D","s":"phi","x":10.70,"y":0.226},{"b":"D","s":"phi","x":11.22,"y":0.217},{"b":"D","s":"phi","x":12.0,"y":0.211},
{"b":"D","s":"theta","x":4.00,"y":0.211},{"b":"D","s":"theta","x":4.16,"y":0.214},{"b":"D","s":"theta","x":4.37,"y":0.208},{"b":"D","s":"theta","x":4.62,"y":0.211},{"b":"D","s":"theta","x":4.88,"y":0.219},{"b":"D","s":"theta","x":5.14,"y":0.209},{"b":"D","s":"theta","x":5.40,"y":0.207},{"b":"D","s":"theta","x":5.66,"y":0.213},{"b":"D","s":"theta","x":5.87,"y":0.217},{"b":"D","s":"theta","x":6.13,"y":0.211},{"b":"D","s":"theta","x":6.55,"y":0.209},{"b":"D","s":"theta","x":7.06,"y":0.213},{"b":"D","s":"theta","x":7.58,"y":0.211},{"b":"D","s":"theta","x":8.10,"y":0.209},{"b":"D","s":"theta","x":8.62,"y":0.208},{"b":"D","s":"theta","x":9.04,"y":0.205},{"b":"D","s":"theta","x":9.40,"y":0.203},{"b":"D","s":"theta","x":9.66,"y":0.213},{"b":"D","s":"theta","x":9.81,"y":0.217},{"b":"D","s":"theta","x":10.02,"y":0.213},{"b":"D","s":"theta","x":10.44,"y":0.208},{"b":"D","s":"theta","x":11.22,"y":0.205},{"b":"D","s":"theta","x":12.0,"y":0.202},
{"b":"E","s":"eta","x":4.00,"y":0.057},{"b":"E","s":"eta","x":4.03,"y":0.015},{"b":"E","s":"eta","x":4.11,"y":0.009},{"b":"E","s":"eta","x":4.18,"y":0.010},{"b":"E","s":"eta","x":4.20,"y":0.036},{"b":"E","s":"eta","x":4.22,"y":0.018},{"b":"E","s":"eta","x":4.29,"y":0.024},{"b":"E","s":"eta","x":4.37,"y":0.093},{"b":"E","s":"eta","x":4.44,"y":0.125},{"b":"E","s":"eta","x":4.50,"y":0.081},{"b":"E","s":"eta","x":4.55,"y":0.111},{"b":"E","s":"eta","x":4.61,"y":0.140},{"b":"E","s":"eta","x":4.68,"y":0.081},{"b":"E","s":"eta","x":4.75,"y":0.033},{"b":"E","s":"eta","x":4.86,"y":0.009},{"b":"E","s":"eta","x":4.99,"y":0.006},{"b":"E","s":"eta","x":5.14,"y":0.009},{"b":"E","s":"eta","x":5.27,"y":0.039},{"b":"E","s":"eta","x":5.35,"y":0.075},{"b":"E","s":"eta","x":5.43,"y":0.089},{"b":"E","s":"eta","x":5.50,"y":0.066},{"b":"E","s":"eta","x":5.56,"y":0.099},{"b":"E","s":"eta","x":5.64,"y":0.118},{"b":"E","s":"eta","x":5.71,"y":0.087},{"b":"E","s":"eta","x":5.82,"y":0.039},{"b":"E","s":"eta","x":5.92,"y":0.012},{"b":"E","s":"eta","x":6.03,"y":0.008},{"b":"E","s":"eta","x":6.04,"y":0.021},{"b":"E","s":"eta","x":6.06,"y":0.007},{"b":"E","s":"eta","x":6.39,"y":0.006},{"b":"E","s":"eta","x":6.42,"y":0.027},{"b":"E","s":"eta","x":6.44,"y":0.006},{"b":"E","s":"eta","x":6.62,"y":0.012},{"b":"E","s":"eta","x":6.75,"y":0.024},{"b":"E","s":"eta","x":6.88,"y":0.042},{"b":"E","s":"eta","x":6.99,"y":0.060},{"b":"E","s":"eta","x":7.09,"y":0.048},{"b":"E","s":"eta","x":7.19,"y":0.075},{"b":"E","s":"eta","x":7.27,"y":0.095},{"b":"E","s":"eta","x":7.38,"y":0.075},{"b":"E","s":"eta","x":7.53,"y":0.039},{"b":"E","s":"eta","x":7.66,"y":0.018},{"b":"E","s":"eta","x":7.79,"y":0.008},{"b":"E","s":"eta","x":8.10,"y":0.006},{"b":"E","s":"eta","x":8.62,"y":0.006},{"b":"E","s":"eta","x":9.14,"y":0.014},{"b":"E","s":"eta","x":9.50,"y":0.030},{"b":"E","s":"eta","x":9.71,"y":0.040},{"b":"E","s":"eta","x":9.87,"y":0.045},{"b":"E","s":"eta","x":10.02,"y":0.060},{"b":"E","s":"eta","x":10.15,"y":0.071},{"b":"E","s":"eta","x":10.33,"y":0.063},{"b":"E","s":"eta","x":10.59,"y":0.039},{"b":"E","s":"eta","x":10.90,"y":0.018},{"b":"E","s":"eta","x":11.22,"y":0.009},{"b":"E","s":"eta","x":11.63,"y":0.006},{"b":"E","s":"eta","x":11.84,"y":0.008},{"b":"E","s":"eta","x":12.0,"y":0.004},
{"b":"E","s":"tot","x":4.00,"y":0.030},{"b":"E","s":"tot","x":4.05,"y":0.012},{"b":"E","s":"tot","x":4.16,"y":0.003},{"b":"E","s":"tot","x":4.26,"y":0.009},{"b":"E","s":"tot","x":4.34,"y":0.045},{"b":"E","s":"tot","x":4.41,"y":0.072},{"b":"E","s":"tot","x":4.46,"y":0.051},{"b":"E","s":"tot","x":4.52,"y":0.109},{"b":"E","s":"tot","x":4.56,"y":0.099},{"b":"E","s":"tot","x":4.60,"y":0.090},{"b":"E","s":"tot","x":4.65,"y":0.057},{"b":"E","s":"tot","x":4.73,"y":0.027},{"b":"E","s":"tot","x":4.83,"y":0.006},{"b":"E","s":"tot","x":4.99,"y":0.002},{"b":"E","s":"tot","x":5.17,"y":0.009},{"b":"E","s":"tot","x":5.30,"y":0.027},{"b":"E","s":"tot","x":5.38,"y":0.048},{"b":"E","s":"tot","x":5.47,"y":0.033},{"b":"E","s":"tot","x":5.56,"y":0.081},{"b":"E","s":"tot","x":5.64,"y":0.063},{"b":"E","s":"tot","x":5.71,"y":0.045},{"b":"E","s":"tot","x":5.82,"y":0.024},{"b":"E","s":"tot","x":5.97,"y":0.006},{"b":"E","s":"tot","x":6.18,"y":0.001},{"b":"E","s":"tot","x":6.44,"y":0.003},{"b":"E","s":"tot","x":6.65,"y":0.012},{"b":"E","s":"tot","x":6.86,"y":0.030},{"b":"E","s":"tot","x":6.99,"y":0.024},{"b":"E","s":"tot","x":7.14,"y":0.054},{"b":"E","s":"tot","x":7.25,"y":0.036},{"b":"E","s":"tot","x":7.35,"y":0.036},{"b":"E","s":"tot","x":7.53,"y":0.018},{"b":"E","s":"tot","x":7.74,"y":0.004},{"b":"E","s":"tot","x":8.10,"y":0.001},{"b":"E","s":"tot","x":8.62,"y":0.002},{"b":"E","s":"tot","x":9.14,"y":0.010},{"b":"E","s":"tot","x":9.40,"y":0.016},{"b":"E","s":"tot","x":9.58,"y":0.022},{"b":"E","s":"tot","x":9.81,"y":0.014},{"b":"E","s":"tot","x":10.00,"y":0.030},{"b":"E","s":"tot","x":10.13,"y":0.024},{"b":"E","s":"tot","x":10.31,"y":0.024},{"b":"E","s":"tot","x":10.49,"y":0.018},{"b":"E","s":"tot","x":10.80,"y":0.006},{"b":"E","s":"tot","x":11.22,"y":0.001},{"b":"E","s":"tot","x":12.0,"y":0.000},
{"b":"E","s":"t","x":4.00,"y":0.030},{"b":"E","s":"t","x":4.05,"y":0.012},{"b":"E","s":"t","x":4.16,"y":0.003},{"b":"E","s":"t","x":4.26,"y":0.009},{"b":"E","s":"t","x":4.34,"y":0.045},{"b":"E","s":"t","x":4.41,"y":0.072},{"b":"E","s":"t","x":4.46,"y":0.051},{"b":"E","s":"t","x":4.52,"y":0.109},{"b":"E","s":"t","x":4.56,"y":0.099},{"b":"E","s":"t","x":4.60,"y":0.090},{"b":"E","s":"t","x":4.65,"y":0.057},{"b":"E","s":"t","x":4.73,"y":0.027},{"b":"E","s":"t","x":4.83,"y":0.006},{"b":"E","s":"t","x":4.99,"y":0.002},{"b":"E","s":"t","x":5.17,"y":0.009},{"b":"E","s":"t","x":5.30,"y":0.027},{"b":"E","s":"t","x":5.38,"y":0.048},{"b":"E","s":"t","x":5.47,"y":0.033},{"b":"E","s":"t","x":5.56,"y":0.081},{"b":"E","s":"t","x":5.64,"y":0.063},{"b":"E","s":"t","x":5.71,"y":0.045},{"b":"E","s":"t","x":5.82,"y":0.024},{"b":"E","s":"t","x":5.97,"y":0.006},{"b":"E","s":"t","x":6.18,"y":0.001},{"b":"E","s":"t","x":6.44,"y":0.003},{"b":"E","s":"t","x":6.65,"y":0.012},{"b":"E","s":"t","x":6.86,"y":0.030},{"b":"E","s":"t","x":6.99,"y":0.024},{"b":"E","s":"t","x":7.14,"y":0.054},{"b":"E","s":"t","x":7.25,"y":0.036},{"b":"E","s":"t","x":7.35,"y":0.036},{"b":"E","s":"t","x":7.53,"y":0.018},{"b":"E","s":"t","x":7.74,"y":0.004},{"b":"E","s":"t","x":8.10,"y":0.001},{"b":"E","s":"t","x":8.62,"y":0.002},{"b":"E","s":"t","x":9.14,"y":0.010},{"b":"E","s":"t","x":9.40,"y":0.016},{"b":"E","s":"t","x":9.58,"y":0.022},{"b":"E","s":"t","x":9.81,"y":0.014},{"b":"E","s":"t","x":10.00,"y":0.030},{"b":"E","s":"t","x":10.13,"y":0.024},{"b":"E","s":"t","x":10.31,"y":0.024},{"b":"E","s":"t","x":10.49,"y":0.018},{"b":"E","s":"t","x":10.80,"y":0.006},{"b":"E","s":"t","x":11.22,"y":0.001},{"b":"E","s":"t","x":12.0,"y":0.000},
{"b":"E","s":"phi","x":4.0,"y":0.0},{"b":"E","s":"phi","x":8.0,"y":0.0},{"b":"E","s":"phi","x":12.0,"y":0.0},
{"b":"E","s":"theta","x":4.00,"y":0.002},{"b":"E","s":"theta","x":4.50,"y":0.004},{"b":"E","s":"theta","x":4.60,"y":0.003},{"b":"E","s":"theta","x":5.00,"y":0.001},{"b":"E","s":"theta","x":6.00,"y":0.002},{"b":"E","s":"theta","x":7.00,"y":0.002},{"b":"E","s":"theta","x":8.00,"y":0.001},{"b":"E","s":"theta","x":10.00,"y":0.001},{"b":"E","s":"theta","x":12.0,"y":0.001}
]},
"layer":[
{"data":{"name":"curves"},
 "mark":{"type":"line","interpolate":"monotone"},
 "encoding":{
  "x":{"field":"x","type":"quantitative","scale":{"domain":[4,12],"nice":false,"zero":false},"axis":{"values":[4,6,8,10,12],"format":"~g","title":"λ [um]","titleFontSize":32,"labelPadding":6,"titlePadding":21}},
  "y":{"field":"y","type":"quantitative","scale":{"domain":[0,1],"nice":false},"axis":{"values":[0,0.1,0.2,0.3,0.4,0.5,0.6,0.7,0.8,0.9,1],"labelExpr":"round(datum.value*10) % 2 == 0 ? format(datum.value, '~g') : ''","title":"Reflectivité","titleFontSize":34,"labelPadding":16,"titlePadding":26}},
  "color":{"field":"s","type":"nominal","scale":{"domain":["eta","tot","t","phi","theta"],"range":["#808080","#4c72b0","#dd8452","#55a868","#c44e52"]},
   "legend":{"orient":"none","legendX":13,"legendY":-35,"direction":"horizontal","title":null,"symbolType":"M-3,0H3","symbolSize":225,"symbolOffset":15,"symbolStrokeWidth":2.5,"symbolFillColor":"transparent","labelFont":"DejaVu Sans","labelFontSize":20,"labelColor":"#222222","labelOffset":28,"columnPadding":42,"padding":8,"fillColor":"#eeeef3","strokeColor":"#cccccc","cornerRadius":4,
    "labelExpr":"datum.label == 'eta' ? 'η' : datum.label == 'tot' ? 'Δₜₒₜ' : datum.label == 't' ? 'Δₜ' : datum.label == 'phi' ? 'Δᵩ' : 'Δθ'"}},
  "strokeDash":{"field":"s","type":"nominal","scale":{"domain":["eta","tot","t","phi","theta"],"range":[[1,0],[1,0],[7.4,3.2],[7.4,3.2],[7.4,3.2]]}},
  "strokeWidth":{"field":"s","type":"nominal","scale":{"domain":["eta","tot","t","phi","theta"],"range":[2.2,3,2.3,2.3,2.3]},"legend":null},
  "detail":{"field":"b"}
 }},
{"data":{"name":"labels"},"transform":[{"filter":"datum.label == 'InGaAs nid'"}],
 "mark":{"type":"rect","width":140,"height":37,"fill":"#c8c8ca","stroke":"#8c8c8c","strokeWidth":1,"cornerRadius":6},
 "encoding":{"x":{"field":"x","type":"quantitative"},"y":{"field":"y","type":"quantitative"}}},
{"data":{"name":"labels"},"transform":[{"filter":"datum.label == 'AlInAs nid'"}],
 "mark":{"type":"rect","width":128,"height":37,"fill":"#c8c8ca","stroke":"#8c8c8c","strokeWidth":1,"cornerRadius":6},
 "encoding":{"x":{"field":"x","type":"quantitative"},"y":{"field":"y","type":"quantitative"}}},
{"data":{"name":"labels"},"transform":[{"filter":"indexof(datum.label, 'e1') >= 0"}],
 "mark":{"type":"rect","width":162,"height":37,"fill":"#c8c8ca","stroke":"#8c8c8c","strokeWidth":1,"cornerRadius":6},
 "encoding":{"x":{"field":"x","type":"quantitative"},"y":{"field":"y","type":"quantitative"}}},
{"data":{"name":"labels"},
 "mark":{"type":"text","font":"Liberation Sans","fontSize":24.5,"color":"#111111","align":"center","baseline":"middle","dy":1},
 "encoding":{"x":{"field":"x","type":"quantitative"},"y":{"field":"y","type":"quantitative"},"text":{"field":"label"}}}
]
}
